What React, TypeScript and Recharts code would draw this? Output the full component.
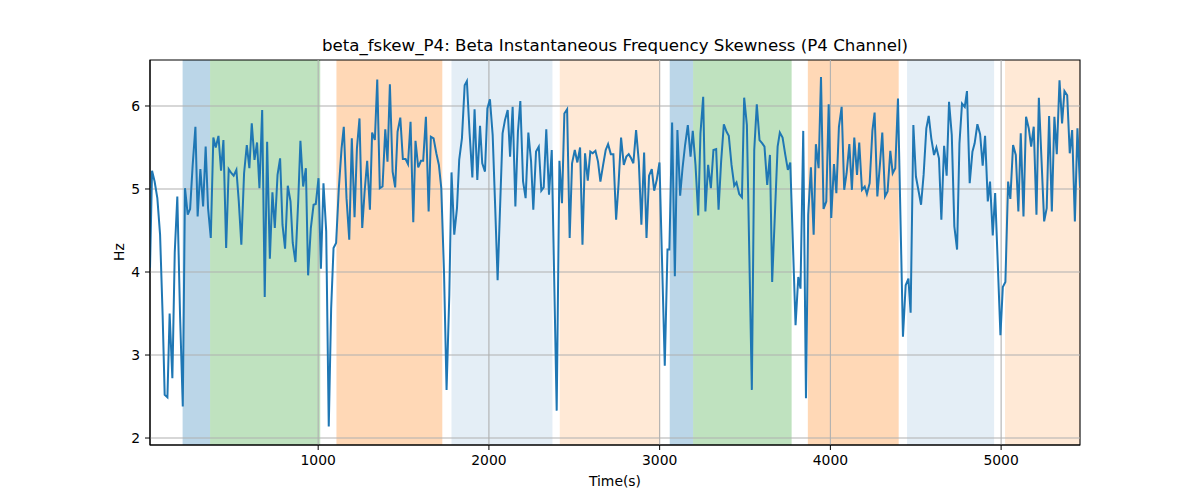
import { ComposedChart, Line, XAxis, YAxis, ReferenceArea, ReferenceLine } from "recharts";

// sample times (s) and skewness values (Hz)
const timeSec = [
  15, 27, 42, 58, 74, 89, 101, 117, 130, 146, 160, 175, 191, 207, 220, 236, 250, 265, 281, 294,
  310, 326, 341, 355, 371, 386, 400, 416, 431, 445, 461, 476, 492, 505, 521, 535, 550, 566, 582, 597,
  611, 627, 642, 656, 672, 687, 701, 717, 732, 746, 762, 777, 791, 806, 822, 838, 851, 867, 883, 896,
  912, 928, 941, 957, 973, 986, 1002, 1016, 1031, 1047, 1062, 1076, 1090, 1105, 1121, 1137, 1150, 1166, 1182, 1197,
  1213, 1227, 1242, 1258, 1272, 1287, 1303, 1316, 1332, 1346, 1361, 1377, 1393, 1406, 1420, 1436, 1451, 1465, 1481, 1496,
  1512, 1526, 1541, 1557, 1570, 1586, 1602, 1615, 1631, 1647, 1660, 1676, 1692, 1707, 1721, 1737, 1752, 1768, 1781, 1797,
  1813, 1826, 1842, 1858, 1871, 1887, 1903, 1916, 1932, 1948, 1961, 1977, 1991, 2006, 2022, 2037, 2051, 2080, 2094, 2110,
  2124, 2139, 2155, 2170, 2184, 2200, 2215, 2231, 2247, 2260, 2276, 2292, 2307, 2321, 2336, 2352, 2368, 2397, 2413, 2428,
  2442, 2458, 2473, 2487, 2503, 2518, 2534, 2548, 2563, 2579, 2594, 2608, 2624, 2639, 2653, 2669, 2684, 2698, 2714, 2729,
  2745, 2759, 2774, 2790, 2805, 2819, 2833, 2846, 2862, 2878, 2893, 2909, 2923, 2938, 2954, 2968, 2983, 2999, 3030, 3046,
  3057, 3073, 3089, 3104, 3120, 3134, 3149, 3165, 3181, 3194, 3210, 3226, 3239, 3255, 3268, 3284, 3300, 3315, 3331, 3345,
  3360, 3376, 3392, 3405, 3421, 3437, 3450, 3466, 3482, 3495, 3511, 3540, 3554, 3569, 3585, 3601, 3614, 3630, 3646, 3659,
  3691, 3704, 3720, 3736, 3751, 3765, 3796, 3812, 3825, 3841, 3857, 3870, 3886, 3902, 3915, 3931, 3945, 3960, 3976, 3990,
  4005, 4021, 4035, 4050, 4066, 4081, 4095, 4111, 4126, 4140, 4156, 4169, 4185, 4201, 4214, 4230, 4246, 4259, 4275, 4290,
  4304, 4320, 4335, 4351, 4365, 4380, 4396, 4425, 4441, 4457, 4470, 4486, 4501, 4517, 4531, 4546, 4562, 4576, 4591, 4607,
  4621, 4636, 4650, 4666, 4681, 4695, 4711, 4726, 4742, 4756, 4771, 4787, 4800, 4816, 4832, 4845, 4861, 4877, 4892, 4906,
  4922, 4935, 4951, 4965, 4996, 5010, 5025, 5041, 5054, 5070, 5086, 5101, 5115, 5131, 5146, 5162, 5176, 5191, 5207, 5221,
  5252, 5267, 5281, 5297, 5312, 5326, 5342, 5357, 5371, 5387, 5402, 5416, 5432, 5447, 5462,
];

const skewHz = [
  4.05, 5.22, 5.09, 4.89, 4.45, 3.48, 2.52, 2.49, 3.5, 2.72, 4.24, 4.91, 3.48, 2.38, 5.01, 4.69, 4.76, 5.29, 5.75, 4.67,
  5.24, 4.79, 5.51, 4.77, 4.41, 5.62, 5.5, 5.64, 5.22, 5.59, 4.29, 5.24, 5.19, 5.16, 5.23, 4.85, 4.33, 5.19, 5.53, 5.25,
  5.79, 5.35, 5.56, 5.01, 5.95, 3.7, 5.57, 4.16, 4.96, 4.53, 5.17, 5.37, 4.57, 4.28, 5.04, 4.85, 4.35, 4.12, 4.85, 5.58,
  5.03, 5.25, 3.96, 4.53, 4.81, 4.82, 5.13, 4.04, 5.07, 4.49, 2.14, 3.56, 4.29, 4.35, 5.01, 5.49, 5.75, 4.89, 4.39, 5.61,
  4.66, 5.49, 5.85, 4.53, 4.97, 5.34, 4.75, 5.68, 5.59, 6.32, 5.01, 5.03, 5.72, 5.33, 6.26, 5.21, 5.02, 5.69, 5.86, 5.36,
  5.36, 5.3, 5.81, 4.6, 5.58, 5.26, 5.34, 5.34, 5.87, 4.73, 5.63, 5.61, 5.43, 5.29, 5.01, 4.0, 2.58, 3.72, 5.2, 4.45,
  4.77, 5.35, 5.61, 6.25, 6.3, 5.67, 5.14, 5.96, 5.11, 5.76, 5.31, 5.21, 5.97, 6.08, 5.65, 4.77, 3.9, 5.67, 5.83, 5.95,
  5.39, 5.99, 4.79, 5.69, 6.06, 5.09, 4.89, 5.68, 5.33, 4.75, 5.45, 5.51, 4.98, 5.02, 5.72, 4.93, 5.47, 2.33, 5.34, 4.83,
  5.91, 5.96, 4.41, 5.31, 5.47, 5.32, 5.5, 4.33, 5.43, 5.1, 5.45, 5.43, 5.46, 5.33, 5.09, 5.29, 5.47, 5.54, 5.42, 5.42,
  4.63, 5.05, 5.62, 5.29, 5.39, 5.42, 5.37, 5.31, 5.71, 5.33, 4.57, 5.44, 4.41, 5.16, 5.24, 4.98, 5.11, 5.32, 2.87, 4.27,
  4.27, 5.8, 3.95, 5.71, 4.92, 5.25, 5.53, 5.77, 5.39, 5.7, 5.29, 4.68, 5.67, 6.11, 4.73, 5.29, 5.01, 5.47, 5.48, 4.75,
  5.33, 5.78, 5.69, 5.64, 5.29, 5.04, 5.08, 4.94, 4.9, 6.1, 5.77, 2.58, 5.47, 6.02, 5.59, 5.55, 5.51, 5.05, 5.41, 3.88,
  5.51, 5.68, 5.62, 5.41, 5.23, 5.32, 3.36, 3.94, 3.8, 5.7, 2.48, 4.69, 5.26, 4.45, 5.54, 5.25, 6.35, 4.76, 4.85, 6.02,
  4.65, 5.3, 4.95, 5.75, 5.99, 4.99, 5.19, 5.54, 4.99, 5.62, 5.17, 5.56, 4.99, 5.03, 4.94, 5.07, 5.7, 5.92, 4.91, 5.29,
  5.68, 4.91, 4.97, 5.46, 5.19, 5.25, 6.09, 3.22, 3.84, 3.92, 3.51, 5.77, 5.15, 4.97, 4.81, 5.17, 5.73, 5.88, 5.61, 5.41,
  5.5, 5.37, 4.63, 5.52, 5.16, 6.05, 5.65, 4.55, 4.27, 5.55, 6.03, 5.99, 6.18, 5.07, 5.45, 5.55, 5.78, 5.66, 5.28, 5.64,
  4.85, 5.09, 4.44, 4.95, 3.24, 3.82, 3.88, 5.09, 4.88, 5.53, 5.41, 4.73, 5.67, 4.67, 5.87, 5.73, 5.51, 5.75, 4.69, 6.1,
  4.61, 4.77, 5.88, 4.73, 5.87, 5.42, 6.31, 5.79, 6.18, 6.13, 5.43, 5.71, 4.61, 5.73, 5.03,
];

// shaded phases
const spanStart = [206, 367, 1107, 1781, 2415, 3059, 3196, 3868, 4449, 5023];
const spanEnd = [367, 1012, 1727, 2372, 3003, 3196, 3773, 4400, 4959, 5462];
const spanKind = ["blue", "green", "orange", "paleBlue", "paleOrange", "blue", "green", "orange", "paleBlue", "paleOrange"];

const xTicks = [1000, 2000, 3000, 4000, 5000];
const yTicks = [2, 3, 4, 5, 6];
const xDomain = [15, 5462];
const yDomain = [1.916, 6.554];

const spanStyle: Record<string, { fill: string; opacity: number }> = {
  blue: { fill: "#1f77b4", opacity: 0.3 },
  green: { fill: "#2ca02c", opacity: 0.3 },
  orange: { fill: "#ff7f0e", opacity: 0.3 },
  paleBlue: { fill: "#1f77b4", opacity: 0.12 },
  paleOrange: { fill: "#ff7f0e", opacity: 0.17 },
};

const data = timeSec.map((t, i) => ({ t, v: skewHz[i] }));

const font = "'DejaVu Sans', sans-serif";
const tickStyle = { fontFamily: font, fontSize: 13.9, fill: "#000" };

export default function App() {
  return (
    <div style={{ position: "absolute", left: 0, top: 0, width: 1200, height: 500, background: "#fff" }}>
      <ComposedChart width={1200} height={500} data={data} margin={{ top: 60, right: 120, bottom: 0, left: 0 }}>
        <XAxis
          dataKey="t"
          type="number"
          domain={xDomain}
          ticks={xTicks}
          allowDataOverflow
          height={55}
          tick={tickStyle}
          tickSize={5}
          tickMargin={5}
          stroke="#000"
          tickLine={{ stroke: "#000" }}
        />
        <YAxis
          type="number"
          domain={yDomain}
          ticks={yTicks}
          allowDataOverflow
          width={150}
          tick={tickStyle}
          tickSize={5}
          tickMargin={5}
          stroke="#000"
          tickLine={{ stroke: "#000" }}
        />
        {spanStart.map((s, i) => (
          <ReferenceArea
            key={"span" + i}
            x1={s}
            x2={spanEnd[i]}
            fill={spanStyle[spanKind[i]].fill}
            fillOpacity={spanStyle[spanKind[i]].opacity}
            stroke="none"
            ifOverflow="hidden"
          />
        ))}
        {xTicks.map((x) => (
          <ReferenceLine key={"gx" + x} x={x} stroke="#b0b0b0" strokeWidth={1.1} />
        ))}
        {yTicks.map((y) => (
          <ReferenceLine key={"gy" + y} y={y} stroke="#b0b0b0" strokeWidth={1.1} />
        ))}
        <Line
          type="linear"
          dataKey="v"
          stroke="#1f77b4"
          strokeWidth={2}
          dot={false}
          activeDot={false}
          isAnimationActive={false}
        />
        {/* axes frame (top and right spines) */}
        <ReferenceArea
          x1={xDomain[0]}
          x2={xDomain[1]}
          y1={yDomain[0]}
          y2={yDomain[1]}
          fill="none"
          stroke="#000"
          strokeWidth={1.1}
          ifOverflow="visible"
        />
      </ComposedChart>
      <div
        style={{
          position: "absolute",
          left: 150,
          width: 930,
          top: 36,
          lineHeight: "20px",
          textAlign: "center",
          fontFamily: font,
          fontSize: 16.67,
          color: "#000",
        }}
      >
        beta_fskew_P4: Beta Instantaneous Frequency Skewness (P4 Channel)
      </div>
      <div
        style={{
          position: "absolute",
          left: 150,
          width: 930,
          top: 471,
          lineHeight: "20px",
          textAlign: "center",
          fontFamily: font,
          fontSize: 13.9,
          color: "#000",
        }}
      >
        Time(s)
      </div>
      <div
        style={{
          position: "absolute",
          left: 119,
          top: 252,
          transform: "translate(-50%, -50%) rotate(-90deg)",
          lineHeight: "20px",
          fontFamily: font,
          fontSize: 13.9,
          color: "#000",
          whiteSpace: "nowrap",
        }}
      >
        Hz
      </div>
    </div>
  );
}
